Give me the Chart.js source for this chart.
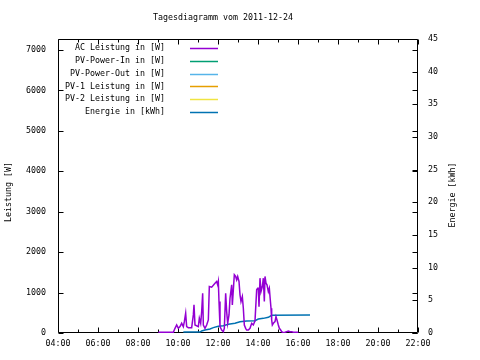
<!DOCTYPE html>
<html>
<head>
<meta charset="utf-8">
<script src="https://cdn.jsdelivr.net/npm/chart.js@4"></script>
<style>
  body { margin: 0; background: #fff; }
  #wrap { width: 480px; height: 360px; }
</style>
</head>
<body>
<div id="wrap"><canvas id="chart" width="480" height="360"></canvas></div>
<script>
// AC power readings (time of day, watts)
const acTimes = [
  "09:01", "09:46", "09:51", "09:56", "10:01", "10:06", "10:11", "10:16", "10:19", "10:23",
  "10:26", "10:31", "10:41", "10:46", "10:48", "10:51", "11:01", "11:04", "11:08", "11:11",
  "11:14", "11:16", "11:21", "11:26", "11:31", "11:34", "11:41", "11:51", "11:56", "11:59",
  "12:01", "12:03", "12:06", "12:11", "12:16", "12:19", "12:23", "12:26", "12:29", "12:33",
  "12:36", "12:41", "12:43", "12:46", "12:49", "12:53", "12:56", "12:59", "13:03", "13:06",
  "13:09", "13:13", "13:16", "13:19", "13:23", "13:26", "13:31", "13:36", "13:41", "13:46",
  "13:51", "13:56", "13:59", "14:01", "14:03", "14:06", "14:09", "14:13", "14:16", "14:19",
  "14:21", "14:24", "14:27", "14:31", "14:34", "14:36", "14:39", "14:41", "14:43", "14:46",
  "14:51", "14:54", "14:57", "15:01", "15:04", "15:08", "15:11", "15:16", "15:21", "15:26",
  "15:31", "15:36", "15:41", "15:46", "16:01"
];
const acWatts = [
  17, 17, 116, 198, 116, 157, 240, 157, 281, 488,
  157, 132, 132, 447, 695, 198, 157, 364, 240, 529,
  984, 198, 116, 198, 323, 1150, 1133, 1232, 1274, 1191,
  1274, 777, 157, 74, 33, 116, 984, 529, 240, 447,
  860, 1191, 695, 1067, 1439, 1398, 1315, 1398, 1274, 943,
  777, 901, 612, 198, 116, 74, 74, 116, 240, 198,
  300, 1067, 1108, 1108, 650, 1356, 1025, 1150, 1356, 777,
  1398, 1232, 1191, 1025, 1108, 901, 612, 323, 198, 240,
  281, 405, 323, 198, 116, 74, 33, 8, 17, 33,
  50, 33, 33, 17, 17
];

// daily energy (time of day, kWh)
const energyTimes = [
  "10:16", "11:06", "11:11", "11:21", "11:36", "11:46", "12:01", "12:16", "12:31",
  "12:51", "13:06", "13:26", "13:51", "14:01", "14:16", "14:31", "14:41", "16:36"
];
const energyKwh = [
  0.15, 0.15, 0.31, 0.46, 0.61, 0.82, 1.02, 1.12, 1.33,
  1.48, 1.73, 1.84, 1.89, 2.14, 2.24, 2.4, 2.7, 2.75
];

const seriesLabels = [
  "AC Leistung in [W]", "PV-Power-In in [W]", "PV-Power-Out in [W]",
  "PV-1 Leistung in [W]", "PV-2 Leistung in [W]", "Energie in [kWh]"
];
const seriesColors = ["#9400d3", "#009e73", "#56b4e9", "#e69f00", "#f0e442", "#0072b2"];

const wattTicks = [0, 1000, 2000, 3000, 4000, 5000, 6000, 7000];
const kwhTicks = [0, 5, 10, 15, 20, 25, 30, 35, 40, 45];
const hourTicks = [4, 6, 8, 10, 12, 14, 16, 18, 20, 22];

const FONT = "'DejaVu Sans Mono', monospace";

function toHours(t) {
  const [h, m] = t.split(":");
  return +h + m / 60;
}

function points(times, values) {
  return times.map((t, i) => ({ x: toHours(t), y: values[i] }));
}

const datasets = seriesLabels.map((label, i) => ({
  label: label,
  data: [],
  borderColor: seriesColors[i],
  borderWidth: 1.5,
  pointRadius: 0,
  fill: false,
  tension: 0,
  yAxisID: i === 5 ? "y2" : "y"
}));
datasets[0].data = points(acTimes, acWatts);
datasets[5].data = points(energyTimes, energyKwh);

// frame, inward ticks, titles and key like gnuplot
const gnuplotLook = {
  id: "gnuplotLook",
  beforeDatasetsDraw(chart) {
    const ctx = chart.ctx;
    const a = chart.chartArea;
    const xs = chart.scales.x, ys = chart.scales.y, y2 = chart.scales.y2;
    const L = Math.round(a.left) + 0.5, R = Math.round(a.right) - 0.5;
    const T = Math.round(a.top) + 0.5, B = Math.round(a.bottom) - 0.5;
    ctx.save();
    ctx.strokeStyle = "#000";
    ctx.lineWidth = 1;
    ctx.beginPath();
    ctx.rect(L, T, R - L, B - T);
    wattTicks.forEach(v => {
      const y = Math.round(ys.getPixelForValue(v)) + 0.5;
      ctx.moveTo(L, y); ctx.lineTo(L + 5, y);
      ctx.moveTo(R, y); ctx.lineTo(R - 5, y);
    });
    kwhTicks.forEach(v => {
      const y = Math.round(y2.getPixelForValue(v)) + 0.5;
      ctx.moveTo(R, y); ctx.lineTo(R - 5, y);
    });
    for (let h = 4; h <= 22; h++) {
      const x = Math.round(xs.getPixelForValue(h)) + 0.5;
      const len = h % 2 === 0 ? 5 : 3;
      ctx.moveTo(x, B); ctx.lineTo(x, B - len);
      ctx.moveTo(x, T); ctx.lineTo(x, T + len);
    }
    ctx.stroke();
    ctx.restore();
  },
  afterDraw(chart) {
    const ctx = chart.ctx;
    ctx.save();
    ctx.fillStyle = "#000";
    ctx.font = "8.3px " + FONT;
    ctx.textBaseline = "middle";
    ctx.textAlign = "center";
    ctx.fillText("Tagesdiagramm vom 2011-12-24", 223, 18);

    ctx.save();
    ctx.translate(9, 192);
    ctx.rotate(-Math.PI / 2);
    ctx.fillText("Leistung [W]", 0, 0);
    ctx.restore();

    ctx.save();
    ctx.translate(453, 195);
    ctx.rotate(-Math.PI / 2);
    ctx.fillText("Energie [kWh]", 0, 0);
    ctx.restore();

    // key
    ctx.textAlign = "right";
    chart.data.datasets.forEach((ds, i) => {
      const y = 48 + i * 12.8;
      ctx.fillStyle = "#000";
      ctx.fillText(ds.label, 165, y);
      ctx.strokeStyle = ds.borderColor;
      ctx.lineWidth = 1.5;
      ctx.beginPath();
      ctx.moveTo(190, Math.round(y) + 0.5);
      ctx.lineTo(218, Math.round(y) + 0.5);
      ctx.stroke();
    });
    ctx.restore();
  }
};

new Chart(document.getElementById("chart"), {
  type: "line",
  data: { datasets: datasets },
  options: {
    responsive: false,
    animation: false,
    devicePixelRatio: 1,
    layout: { padding: { top: 39, left: 0, right: 0, bottom: 0 } },
    plugins: { legend: { display: false }, tooltip: { enabled: false } },
    scales: {
      x: {
        type: "linear",
        min: 4,
        max: 22,
        afterBuildTicks: s => { s.ticks = hourTicks.map(v => ({ value: v })); },
        afterFit: s => { s.height = 27; },
        grid: { display: false, drawTicks: false },
        border: { display: false },
        ticks: {
          padding: 6,
          color: "#000",
          font: { family: FONT, size: 8.3 },
          maxRotation: 0,
          callback: v => String(v).padStart(2, "0") + ":00"
        }
      },
      y: {
        position: "left",
        min: 0,
        max: 7270,
        afterBuildTicks: s => { s.ticks = wattTicks.map(v => ({ value: v })); },
        afterFit: s => { s.width = 58; },
        grid: { display: false, drawTicks: false },
        border: { display: false },
        ticks: { padding: 12, color: "#000", font: { family: FONT, size: 8.3 }, callback: v => String(v) }
      },
      y2: {
        position: "right",
        min: 0,
        max: 45,
        afterBuildTicks: s => { s.ticks = kwhTicks.map(v => ({ value: v })); },
        afterFit: s => { s.width = 62; },
        grid: { display: false, drawTicks: false },
        border: { display: false },
        ticks: { padding: 10, color: "#000", font: { family: FONT, size: 8.3 }, callback: v => String(v) }
      }
    }
  },
  plugins: [gnuplotLook]
});
</script>
</body>
</html>
